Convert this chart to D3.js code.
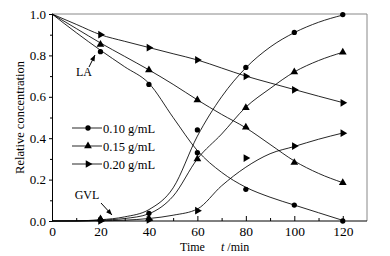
<!DOCTYPE html>
<html>
<head>
<meta charset="utf-8">
<script src="https://cdn.jsdelivr.net/npm/d3@7"></script>
<style>
  body { margin: 0; background: #fff; }
</style>
</head>
<body>
<svg id="chart"></svg>
<script>
// measured points (relative concentration vs time, min)
const times = [0, 20, 40, 60, 80, 100, 120];
const seriesNames = ["0.10 g/mL", "0.15 g/mL", "0.20 g/mL"];
const laPoints = [
  [1.0, 0.818, 0.66, 0.33, 0.153, 0.077, 0.0],
  [1.0, 0.853, 0.73, 0.585, 0.453, 0.282, 0.185],
  [1.0, 0.90, 0.837, 0.778, 0.699, 0.634, 0.571]
];
const gvlPoints = [
  [0.0, 0.005, 0.037, 0.44, 0.742, 0.911, 0.997],
  [0.0, 0.01, 0.012, 0.30, 0.547, 0.72, 0.815],
  [0.0, 0.0, 0.005, 0.05, 0.304, 0.362, 0.424]
];
// fitted curves, every 10 min
const fitTimes = [0, 10, 20, 30, 40, 50, 60, 70, 80, 90, 100, 110, 120];
const laFit = [
  [1.0, 0.91, 0.825, 0.745, 0.665, 0.5, 0.34, 0.235, 0.163, 0.115, 0.077, 0.04, 0.003],
  [1.0, 0.93, 0.86, 0.795, 0.73, 0.66, 0.585, 0.515, 0.45, 0.37, 0.29, 0.23, 0.185],
  [1.0, 0.95, 0.90, 0.868, 0.838, 0.808, 0.778, 0.739, 0.70, 0.667, 0.635, 0.603, 0.572]
];
const gvlFit = [
  [0.0, 0.001, 0.006, 0.02, 0.055, 0.16, 0.41, 0.6, 0.74, 0.84, 0.91, 0.96, 0.995],
  [0.0, 0.0, 0.004, 0.012, 0.035, 0.12, 0.30, 0.42, 0.55, 0.64, 0.72, 0.775, 0.815],
  [0.0, 0.0, 0.001, 0.004, 0.012, 0.028, 0.058, 0.17, 0.26, 0.325, 0.36, 0.395, 0.425]
];
const xTicks = [0, 20, 40, 60, 80, 100, 120];
const yTicks = [0.0, 0.2, 0.4, 0.6, 0.8, 1.0];

const width = 390, height = 256;
const marginLeft = 52, marginTop = 14, plotRight = 367, plotBottom = 221;
const serif = "'Liberation Serif', 'Times New Roman', Times, serif";

const svg = d3.select("#chart")
  .attr("width", width).attr("height", height)
  .attr("font-family", serif);

const x = d3.scaleLinear().domain([0, 130]).range([marginLeft, plotRight]);
const y = d3.scaleLinear().domain([0, 1]).range([plotBottom, marginTop]);

const symbols = [
  d3.symbol().type(d3.symbolCircle).size(22),
  d3.symbol().type(d3.symbolTriangle).size(26),
  d3.symbol().type(d3.symbolTriangle).size(26)
];
const rot = [0, 0, 90];

// frame: top and right in grey
svg.append("path")
  .attr("d", `M${marginLeft},${marginTop}H${plotRight}V${plotBottom}`)
  .attr("fill", "none").attr("stroke", "#888").attr("stroke-width", 1);

// x axis (ticks inward)
svg.append("g")
  .attr("transform", `translate(0,${plotBottom})`)
  .call(d3.axisBottom(x).tickValues(d3.range(10, 130, 20)).tickSize(-3).tickFormat(""))
  .call(g => g.select(".domain").remove());
svg.append("g")
  .attr("transform", `translate(0,${plotBottom})`)
  .call(d3.axisBottom(x).tickValues(xTicks).tickSize(-5).tickSizeOuter(0).tickPadding(5))
  .call(g => g.select(".domain").attr("d", `M${marginLeft},0H${plotRight}`))
  .call(g => g.attr("font-family", serif).selectAll("text").attr("font-size", 13.5));

// y axis
svg.append("g")
  .attr("transform", `translate(${marginLeft},0)`)
  .call(d3.axisLeft(y).tickValues(d3.range(0.1, 1, 0.2)).tickSize(2).tickFormat(""))
  .call(g => g.select(".domain").remove());
svg.append("g")
  .attr("transform", `translate(${marginLeft},0)`)
  .call(d3.axisLeft(y).tickValues(yTicks).tickSize(3).tickSizeOuter(0).tickPadding(3).tickFormat(d3.format(".1f")))
  .call(g => g.attr("font-family", serif).selectAll("text").attr("font-size", 13));

svg.selectAll(".tick line, .domain").attr("stroke", "#000");

const line = d3.line().x(d => x(d[0])).y(d => y(d[1])).curve(d3.curveMonotoneX);

const plot = svg.append("g");
[laFit, gvlFit].forEach(fits => {
  fits.forEach(f => {
    plot.append("path")
      .datum(fitTimes.map((t, i) => [t, f[i]]))
      .attr("fill", "none").attr("stroke", "#000").attr("stroke-width", 0.85)
      .attr("d", line);
  });
});

[laPoints, gvlPoints].forEach(sets => {
  sets.forEach((vals, s) => {
    plot.selectAll(null)
      .data(times.map((t, i) => [t, vals[i]]).filter(d => d[0] > 0))
      .join("path")
      .attr("d", symbols[s])
      .attr("transform", d => `translate(${x(d[0])},${y(d[1])}) rotate(${rot[s]})`)
      .attr("fill", "#000");
  });
});

// legend
const legend = svg.append("g");
seriesNames.forEach((name, i) => {
  const ly = 128 + i * 18;
  legend.append("line").attr("x1", 72).attr("x2", 102).attr("y1", ly).attr("y2", ly)
    .attr("stroke", "#000").attr("stroke-width", 0.85);
  legend.append("path").attr("d", symbols[i])
    .attr("transform", `translate(88,${ly}) rotate(${rot[i]})`).attr("fill", "#000");
  legend.append("text").attr("x", 103).attr("y", ly + 4.5)
    .attr("font-size", 12.5).text(name);
});

// annotations
const arrow = (x1, y1, x2, y2) => {
  svg.append("line").attr("x1", x1).attr("y1", y1).attr("x2", x2).attr("y2", y2)
    .attr("stroke", "#000").attr("stroke-width", 1);
  const a = Math.atan2(y2 - y1, x2 - x1);
  const L = 6, W = 2.5;
  const bx = x2 - L * Math.cos(a), by = y2 - L * Math.sin(a);
  svg.append("path")
    .attr("d", `M${x2},${y2}L${bx + W * Math.sin(a)},${by - W * Math.cos(a)}L${bx - W * Math.sin(a)},${by + W * Math.cos(a)}Z`)
    .attr("fill", "#000");
};
svg.append("text").attr("x", 84).attr("y", 76).attr("text-anchor", "middle")
  .attr("font-size", 12).text("LA");
arrow(89, 67, 95, 55);
svg.append("text").attr("x", 87).attr("y", 199).attr("text-anchor", "middle")
  .attr("font-size", 12).text("GVL");
arrow(101, 203, 112, 215);

// axis titles
svg.append("text")
  .attr("transform", `translate(24,${(marginTop + plotBottom) / 2}) rotate(-90)`)
  .attr("text-anchor", "middle").attr("font-size", 12.5).text("Relative concentration");
const xt = svg.append("text").attr("x", 180).attr("y", 250.5).attr("font-size", 12);
xt.append("tspan").text("Time");
xt.append("tspan").attr("x", 221).attr("font-style", "italic").text("t");
xt.append("tspan").text(" /min");
</script>
</body>
</html>
